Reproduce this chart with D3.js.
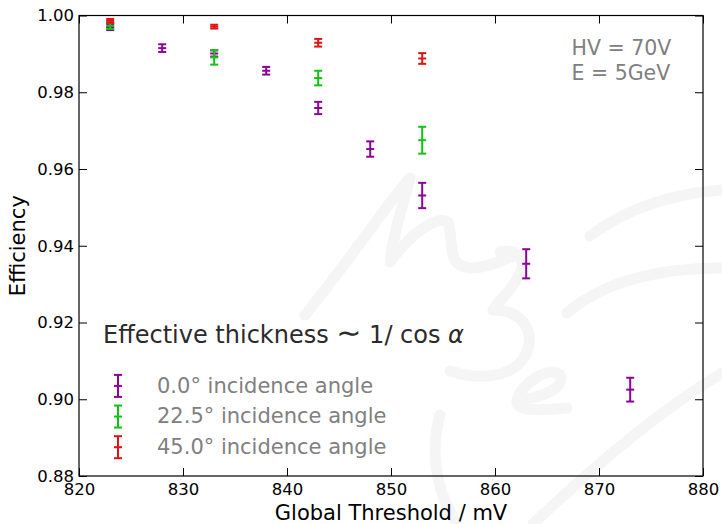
<!DOCTYPE html>
<html>
<head>
<meta charset="utf-8">
<script src="https://cdn.jsdelivr.net/npm/d3@7"></script>
<style>
  body { margin: 0; background: #fff; }
  svg text { font-family: "DejaVu Sans", sans-serif; }
</style>
</head>
<body>
<svg id="chart" width="722" height="524"></svg>
<script>
// thresholds in mV
const thr0 = [823, 828, 833, 838, 843, 848, 853, 863, 873];
const eff0 = [0.9970, 0.9915, 0.9901, 0.9856, 0.9759, 0.9652, 0.9531, 0.9353, 0.9025];
const err0 = [0.0008, 0.0010, 0.0008, 0.0010, 0.0016, 0.0020, 0.0033, 0.0038, 0.0031];

const thr22 = [823, 833, 843, 853];
const eff22 = [0.9973, 0.9891, 0.9837, 0.9675];
const err22 = [0.0008, 0.0019, 0.0019, 0.0035];

const thr45 = [823, 833, 843, 853];
const eff45 = [0.9986, 0.9971, 0.9929, 0.9888];
const err45 = [0.0005, 0.0005, 0.0010, 0.0014];

const xTicks = [820, 830, 840, 850, 860, 870, 880];
const yTicks = [0.88, 0.90, 0.92, 0.94, 0.96, 0.98, 1.00];

const series = [
  { name: "0.0° incidence angle", color: "#8e009c", x: thr0, y: eff0, e: err0 },
  { name: "22.5° incidence angle", color: "#11c411", x: thr22, y: eff22, e: err22 },
  { name: "45.0° incidence angle", color: "#e31212", x: thr45, y: eff45, e: err45 }
];

const margin = { top: 15.5, right: 19, bottom: 48, left: 79 };
const W = 722, H = 524;
const width = W - margin.left - margin.right;
const height = H - margin.top - margin.bottom;

const svg = d3.select("#chart");

// faint logo watermark in the background
const wm = svg.append("g")
  .attr("fill", "none")
  .attr("stroke", "#f5f5f5")
  .attr("stroke-width", 11)
  .attr("stroke-linecap", "round")
  .attr("stroke-linejoin", "round");
[
  "M305,315 C350,260 390,200 410,178 C400,215 392,240 390,262 C410,235 435,215 448,222 C455,245 445,265 470,268 C490,268 505,258 518,255",
  "M500,252 C515,248 530,258 518,277 C510,292 498,302 493,310 C522,310 537,332 525,356 C513,377 480,381 450,371",
  "M517,400 C545,398 566,386 560,375 C550,364 520,385 517,400 C515,411 537,411 567,408",
  "M567,313 C600,285 650,268 722,268",
  "M590,236 C620,213 660,195 722,190",
  "M440,415 C430,450 435,490 457,524",
  "M533,524 C590,470 660,410 722,373"
].forEach(d => wm.append("path").attr("d", d));

const g = svg.append("g")
  .attr("transform", `translate(${margin.left},${margin.top})`);

const x = d3.scaleLinear().domain([820, 880]).range([0, width]);
const y = d3.scaleLinear().domain([0.88, 1.00]).range([height, 0]);

// axes, ticks pointing inwards on all four sides
const xAxis = g.append("g")
  .attr("transform", `translate(0,${height})`)
  .call(d3.axisBottom(x).tickValues(xTicks).tickFormat(d3.format("d")).tickSize(-8).tickPadding(6.5));
const yAxis = g.append("g")
  .call(d3.axisLeft(y).tickValues(yTicks).tickFormat(d3.format(".2f")).tickSize(-8).tickPadding(5));
const xTop = g.append("g")
  .call(d3.axisTop(x).tickValues(xTicks).tickFormat("").tickSize(-8));
const yRight = g.append("g")
  .attr("transform", `translate(${width},0)`)
  .call(d3.axisRight(y).tickValues(yTicks).tickFormat("").tickSize(-8));

[xAxis, yAxis, xTop, yRight].forEach(a => {
  a.select(".domain").remove();
  a.selectAll(".tick line").attr("stroke", "#000").attr("stroke-width", 1);
  a.selectAll(".tick text")
    .attr("fill", "#000")
    .style("font-size", "16.5px")
    .style("font-family", "DejaVu Sans");
});
xAxis.selectAll(".tick text").attr("dy", "0.75em");

g.append("rect")
  .attr("width", width)
  .attr("height", height)
  .attr("fill", "none")
  .attr("stroke", "#000")
  .attr("stroke-width", 1.2);

// error bars
const cap = 4;
function drawBar(sel, cx, cy, y0, y1, color) {
  sel.append("line").attr("x1", cx).attr("x2", cx).attr("y1", y0).attr("y2", y1)
    .attr("stroke", color).attr("stroke-width", 2);
  [y0, y1, cy].forEach(yy => {
    sel.append("line").attr("x1", cx - cap).attr("x2", cx + cap).attr("y1", yy).attr("y2", yy)
      .attr("stroke", color).attr("stroke-width", 2);
  });
}

series.forEach(s => {
  const sg = g.append("g");
  s.x.forEach((xv, i) => {
    drawBar(sg, x(xv), y(s.y[i]), y(s.y[i] - s.e[i]), y(s.y[i] + s.e[i]), s.color);
  });
});

// annotation
const note = g.append("g").attr("fill", "#808080").style("font-size", "20.5px");
note.append("text").attr("x", 492.5).attr("y", 39.5).text("HV = 70V");
note.append("text").attr("x", 492.5).attr("y", 64).text("E = 5GeV");

// legend
const leg = g.append("g");
const title = leg.append("text")
  .attr("x", 24).attr("y", 327.5)
  .attr("fill", "#2b2b2b")
  .style("font-size", "24px");
title.append("tspan").text("Effective thickness ");
title.append("tspan").style("font-size", "30px").text("∼");
title.append("tspan").text(" 1/ cos ");
title.append("tspan").style("font-style", "italic").text("α");

series.forEach((s, i) => {
  const base = 377.2 + i * 30.65;
  const cy = base - 6.8;
  drawBar(leg, 39, cy, cy - 11, cy + 11, s.color);
  leg.append("text")
    .attr("x", 78).attr("y", base)
    .attr("fill", "#808080")
    .style("font-size", "21px")
    .text(s.name);
});

// axis labels
svg.append("text")
  .attr("x", margin.left + width / 2).attr("y", 520)
  .attr("text-anchor", "middle")
  .attr("fill", "#000")
  .style("font-size", "21px")
  .text("Global Threshold / mV");
svg.append("text")
  .attr("transform", `translate(25,${margin.top + height / 2}) rotate(-90)`)
  .attr("text-anchor", "middle")
  .attr("fill", "#000")
  .style("font-size", "21px")
  .text("Efficiency");
</script>
</body>
</html>
